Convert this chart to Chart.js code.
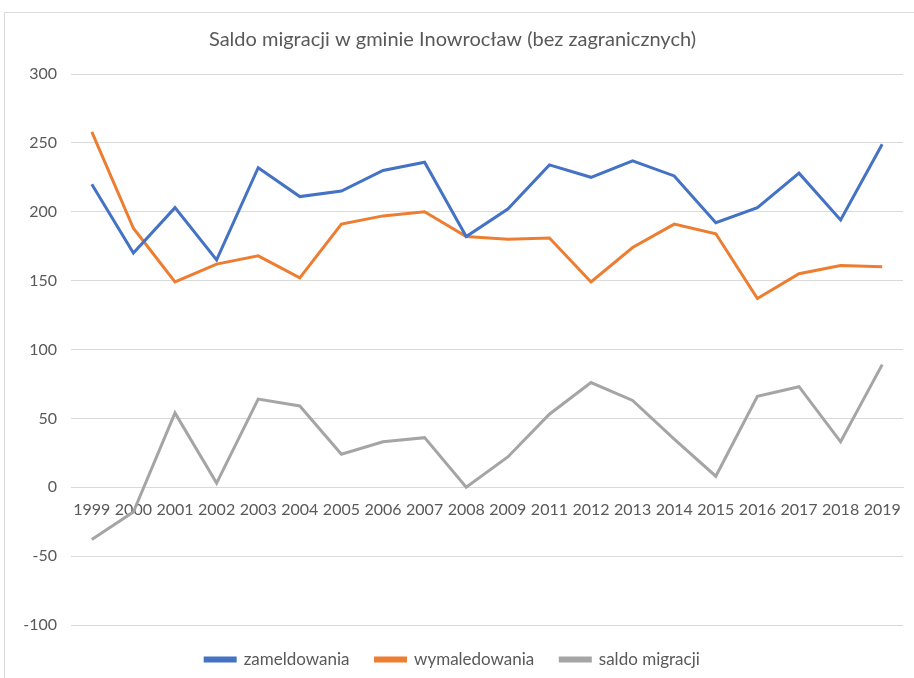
<!DOCTYPE html>
<html>
<head>
<meta charset="utf-8">
<script src="https://cdn.jsdelivr.net/npm/chart.js@4/dist/chart.umd.min.js"></script>
<style>
  html, body { margin: 0; padding: 0; background: #fff; overflow: hidden; }
  #ramka { position: absolute; left: 4px; top: 12px; width: 940px; height: 700px; border: 1px solid #d9d9d9; }
  #box { position: absolute; left: 0; top: 0; width: 914px; height: 678px; }
</style>
</head>
<body>
<div id="ramka"></div>
<div id="box"><canvas id="wykres"></canvas></div>
<script>
const lata = ["1999","2000","2001","2002","2003","2004","2005","2006","2007","2008","2009","2011","2012","2013","2014","2015","2016","2017","2018","2019"];
const zameldowania = [220,170,203,165,232,211,215,230,236,182,202,234,225,237,226,192,203,228,194,249];
const wymeldowania = [258,188,149,162,168,152,191,197,200,182,180,181,149,174,191,184,137,155,161,160];
const saldo = [-38,-18,54,3,64,59,24,33,36,0,22,53,76,63,35,8,66,73,33,89];
const etykiety = ["zameldowania","wymaledowania","saldo migracji"];
const KOLORY = ["#4472C4","#ED7D31","#A5A5A5"];
const TEKST = "#595959";
const FONT = "Lato";

window.onload = ()=>{
const ctx = document.getElementById('wykres').getContext('2d');
const seria = (i, dane) => ({
    label: etykiety[i],
    data: dane,
    borderColor: KOLORY[i],
    backgroundColor: KOLORY[i],
    borderWidth: 3,
    pointRadius: 0,
    tension: 0
});
new Chart(ctx, {
    type: 'line',
    data: {
        labels: lata,
        datasets: [seria(0, zameldowania), seria(1, wymeldowania), seria(2, saldo)]
    },
    options: {
        responsive: true,
        maintainAspectRatio: false,
        animation: false,
        layout: { padding: { left: 0, right: 9, top: 0, bottom: 0 } },
        scales: {
            x: {
                position: { y: 0 },
                offset: true,
                grid: { display: false, drawTicks: false },
                border: { color: "#d9d9d9", width: 1 },
                ticks: { color: TEKST, font: { family: FONT, size: 16 }, padding: 13, autoSkip: false, maxRotation: 0 }
            },
            y: {
                min: -100,
                max: 300,
                ticks: { stepSize: 50, color: TEKST, font: { family: FONT, size: 16 }, padding: 14 },
                grid: { color: "#d9d9d9", drawTicks: false },
                border: { display: false },
                afterFit: (s) => { s.width = 71; }
            }
        },
        plugins: {
            title: {
                display: true,
                text: "Saldo migracji w gminie Inowrocław (bez zagranicznych)",
                color: TEKST,
                font: { family: FONT, size: 20, weight: 'normal' },
                padding: { top: 28, bottom: 22 }
            },
            legend: {
                position: 'bottom',
                labels: {
                    color: TEKST,
                    font: { family: FONT, size: 17 },
                    boxWidth: 30,
                    boxHeight: 3,
                    padding: 26
                }
            },
            tooltip: { enabled: false }
        }
    }
});
}
</script>
</body>
</html>
